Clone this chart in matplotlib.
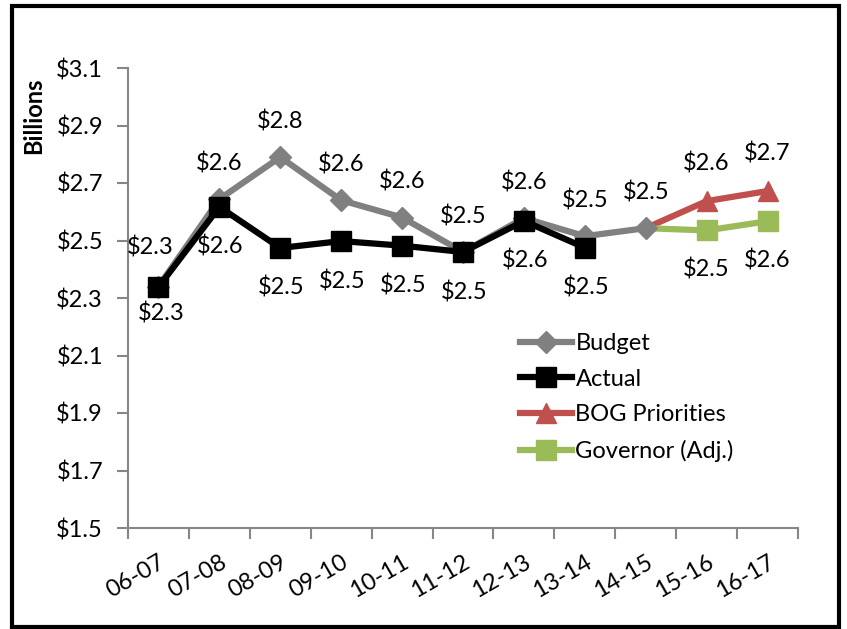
import matplotlib.pyplot as plt
from matplotlib.patches import Rectangle

plt.rcParams['font.family'] = ['Lato', 'DejaVu Sans']

years = ["06-07", "07-08", "08-09", "09-10", "10-11", "11-12",
         "12-13", "13-14", "14-15", "15-16", "16-17"]

budget = [2.34, 2.644, 2.79, 2.64, 2.58, 2.46, 2.578, 2.515, 2.543]
actual = [2.338, 2.617, 2.474, 2.498, 2.482, 2.46, 2.568, 2.475]
bog = [2.543, 2.637, 2.672]
governor = [2.543, 2.535, 2.567]

yticks = [1.5, 1.7, 1.9, 2.1, 2.3, 2.5, 2.7, 2.9, 3.1]

W, H = 847, 629
fig = plt.figure(figsize=(W / 100, H / 100), dpi=100)
ax = fig.add_axes([128 / W, 1 - 528 / H, 670 / W, 460 / H])

x_budget = list(range(len(budget)))
x_actual = list(range(len(actual)))
x_bog = list(range(8, 8 + len(bog)))
x_gov = list(range(8, 8 + len(governor)))

# the projection lines start at the 14-15 budget point, no marker there
ax.plot(x_bog, bog, color='#C0504D', lw=4.5, marker='^', ms=15,
        markevery=[1, 2], label='BOG Priorities', zorder=3)
ax.plot(x_gov, governor, color='#9BBB59', lw=4.5, marker='s', ms=15,
        markevery=[1, 2], label='Governor (Adj.)', zorder=3)
ax.plot(x_budget, budget, color='#808080', lw=4.5, marker='D', ms=11,
        label='Budget', zorder=4)
ax.plot(x_actual, actual, color='black', lw=4.5, marker='s', ms=15,
        label='Actual', zorder=5)

fs = 17

def label(x, y, dx, dy):
    ax.annotate(f"${y:.1f}", (x, y), xytext=(dx, dy), textcoords='offset pixels',
                ha='center', va='center', fontsize=fs, zorder=6)

for i, v in enumerate(budget):
    if i == 0:
        label(i, v, -8, 39)
    else:
        label(i, v, 0, 36)
for i, v in enumerate(actual):
    if i == 0:
        label(i, v, 3, -26)
    else:
        label(i, v, 1, -40)
for i, v in zip(x_bog[1:], bog[1:]):
    label(i, v, 0, 38)
for i, v in zip(x_gov[1:], governor[1:]):
    label(i, v, 0, -39)

ax.set_xlim(-0.5, len(years) - 0.5)
ax.set_ylim(1.5, 3.1)
ax.set_yticks(yticks)
ax.set_yticklabels([f"${t:.1f}" for t in yticks], fontsize=fs)

ax.set_xticks(range(len(years)))
ax.set_xticklabels(years, fontsize=fs, rotation=30, ha='right', va='top',
                   rotation_mode='anchor')
ax.set_xticks([i - 0.5 for i in range(len(years) + 1)], minor=True)
ax.tick_params(axis='x', which='major', length=0, pad=17)
ax.tick_params(axis='x', which='minor', length=8, width=1.5, color='#868686')
ax.tick_params(axis='y', length=8, width=1.5, color='#868686', pad=10)

for s in ['top', 'right']:
    ax.spines[s].set_visible(False)
for s in ['left', 'bottom']:
    ax.spines[s].set_color('#868686')
    ax.spines[s].set_linewidth(1.5)

fig.text(34 / W, 1 - 116 / H, "Billions", rotation=90, ha='center', va='center',
         fontsize=17, fontweight='bold')

handles, labels = ax.get_legend_handles_labels()
order = [2, 3, 0, 1]
ax.legend([handles[i] for i in order], [labels[i] for i in order],
          loc='upper left', bbox_to_anchor=((520 - 128) / 670, (528 - 333) / 460),
          frameon=False, fontsize=fs, handlelength=2.2, handletextpad=0.15,
          labelspacing=0.62, borderpad=0, borderaxespad=0)

fig.patches.append(Rectangle((12 / W, 1 - 627 / H), 827 / W, 621 / H,
                             transform=fig.transFigure, fill=False,
                             edgecolor='black', lw=3))

fig.savefig("out.png", dpi=100)
